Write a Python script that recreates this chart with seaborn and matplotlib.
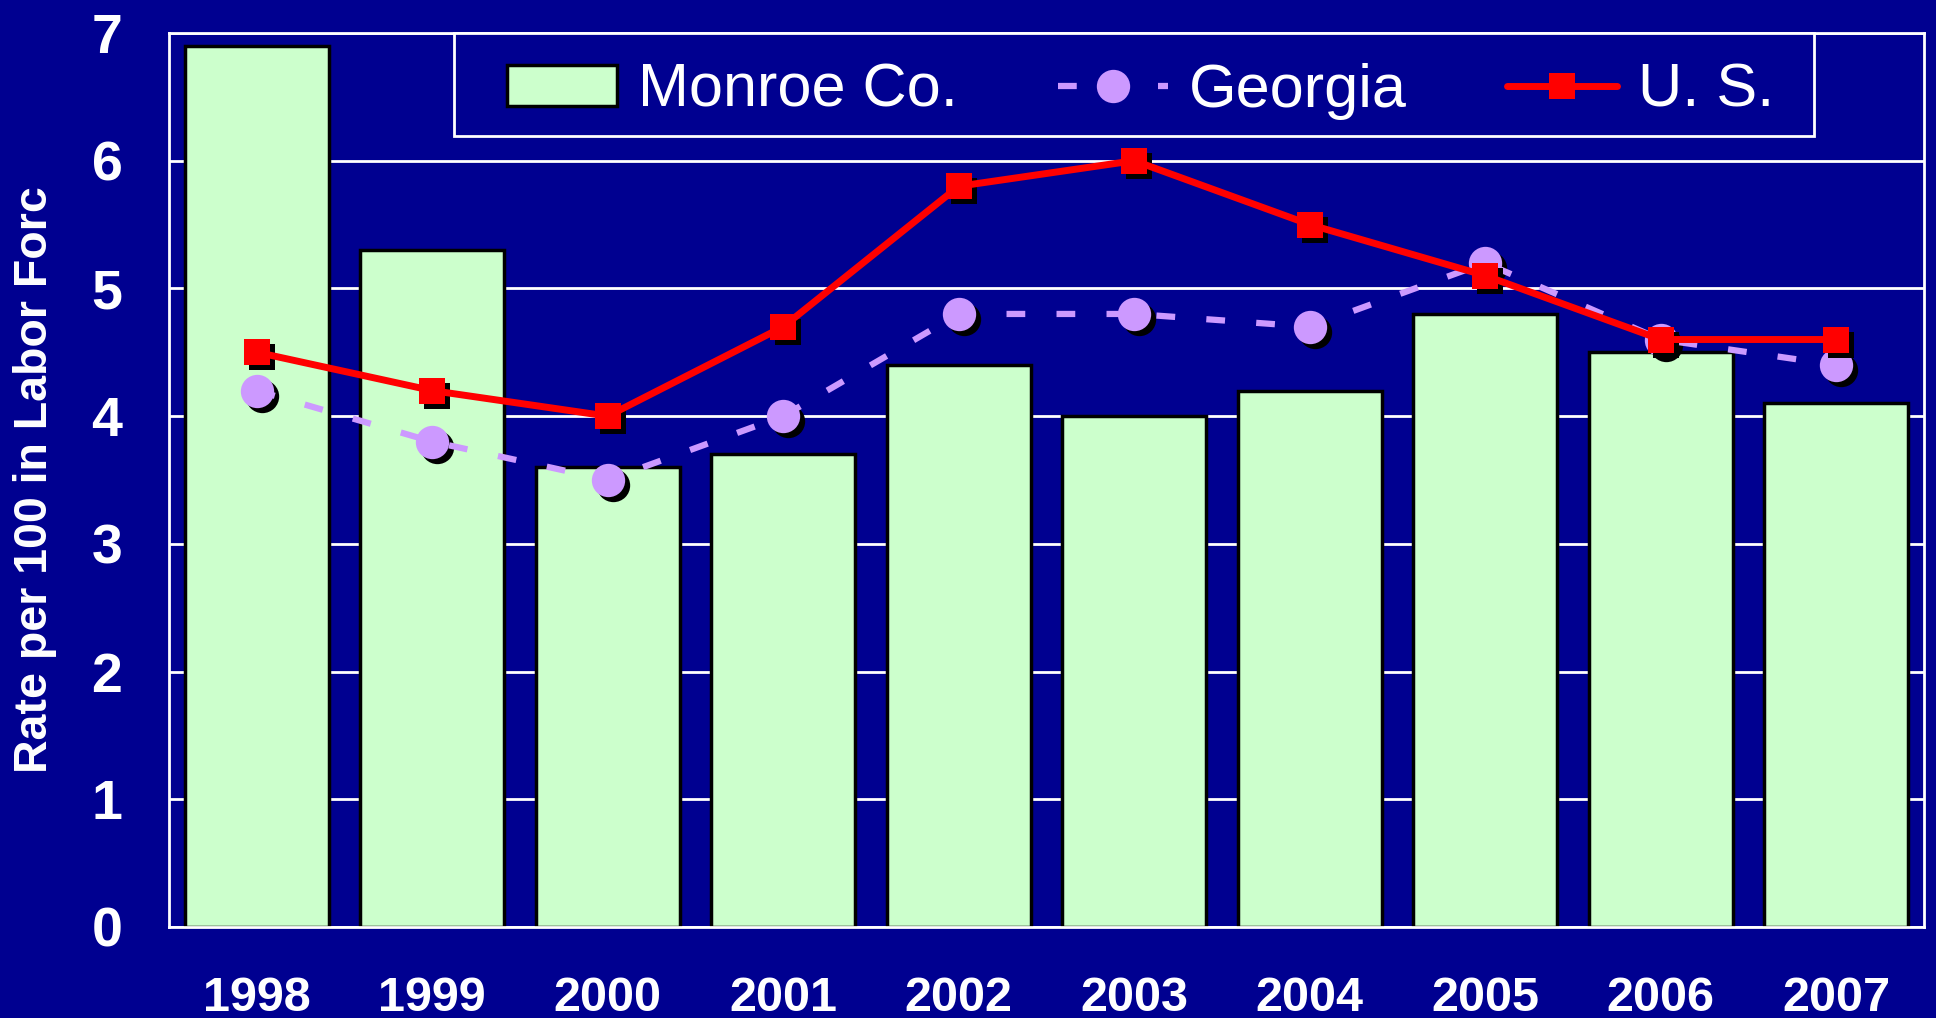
import numpy as np
import pandas as pd
import seaborn as sns
import matplotlib.pyplot as plt
import matplotlib.transforms as mtransforms
from matplotlib.patches import Rectangle
from matplotlib.ticker import FixedLocator

years = ['1998', '1999', '2000', '2001', '2002', '2003', '2004', '2005', '2006', '2007']
monroe = [6.9, 5.3, 3.6, 3.7, 4.4, 4.0, 4.2, 4.8, 4.5, 4.1]
georgia = [4.2, 3.8, 3.5, 4.0, 4.8, 4.8, 4.7, 5.2, 4.6, 4.4]
us = [4.5, 4.2, 4.0, 4.7, 5.8, 6.0, 5.5, 5.1, 4.6, 4.6]

navy = '#000090'
green = '#CCFFCC'
lavender = '#CC99FF'
red = '#FF0000'

sns.set_style('dark', rc={'axes.facecolor': navy, 'figure.facecolor': navy})
plt.rcParams['font.family'] = ['Liberation Sans', 'DejaVu Sans']

df = pd.DataFrame({'Year': years, 'Monroe': monroe, 'Georgia': georgia, 'US': us})
pos = np.arange(len(years))

fig = plt.figure(figsize=(19.36, 10.18), dpi=100, facecolor=navy)
ax = fig.add_axes([0.0873, 0.0894, 0.9065, 0.8782])
ax.set_facecolor(navy)

sns.barplot(data=df, x='Year', y='Monroe', color=green, saturation=1,
            edgecolor='black', linewidth=2.5, width=0.82, label='Monroe Co.',
            ax=ax, zorder=2)

# black drop shadow under the markers
shadow = mtransforms.offset_copy(ax.transData, fig=fig, x=5, y=-5, units='dots')
ax.plot(pos, df['Georgia'], ls='none', marker='o', ms=24, mew=0,
        color='black', transform=shadow, zorder=3)
ax.plot(pos, df['Georgia'], color=lavender, lw=4.5, dashes=(3, 5),
        marker='o', ms=24, mew=0, label='Georgia', zorder=4)
ax.plot(pos, df['US'], ls='none', marker='s', ms=19, mew=0,
        color='black', transform=shadow, zorder=5)
ax.plot(pos, df['US'], color=red, lw=5, marker='s', ms=19, mew=0,
        label='U. S.', zorder=6)

ax.set_xlim(-0.5, len(years) - 0.5)
ax.set_ylim(0, 7)
ax.set_yticks(range(8))
ax.xaxis.set_minor_locator(FixedLocator(np.arange(-0.5, len(years), 1)))

ax.set_axisbelow(True)
ax.yaxis.grid(True, color='white', lw=2)
ax.xaxis.grid(False)

ax.tick_params(axis='x', which='major', length=0, pad=35, labelsize=35,
               labelcolor='white')
ax.tick_params(axis='x', which='minor', direction='inout', length=22,
               width=2, color='white')
ax.tick_params(axis='y', direction='inout', length=29, width=2,
               color='white', pad=19, labelsize=40, labelcolor='white')
plt.setp(ax.get_xticklabels(), fontweight='bold')
plt.setp(ax.get_yticklabels(), fontweight='bold')

for s in ax.spines.values():
    s.set_visible(True)
    s.set_color('white')
    s.set_linewidth(2)

ax.set_xlabel('')
ax.set_ylabel('Rate per 100 in Labor Forc', fontsize=33.5, fontweight='bold',
              color='white')
ax.yaxis.set_label_coords(-0.0636, 0.5)

leg_size = 44
em = leg_size * 100 / 72
handles, labels = ax.get_legend_handles_labels()
order = [labels.index(n) for n in ['Monroe Co.', 'Georgia', 'U. S.']]
leg = ax.legend([handles[i] for i in order], [labels[i] for i in order],
                loc='center left', bbox_to_anchor=(0.1926, 0.935), ncol=3,
                frameon=False, fontsize=leg_size,
                handlelength=110 / em, handleheight=40 / em,
                handletextpad=21 / em, columnspacing=100 / em,
                borderpad=0, borderaxespad=0)
leg.set_zorder(10)
for t in leg.get_texts():
    t.set_color('white')

# square legend frame, wider at the sides than matplotlib's own frame
frame = Rectangle((454 / 1936, 1 - 136 / 1018), 1360 / 1936, 103 / 1018,
                  transform=fig.transFigure, facecolor=navy,
                  edgecolor='white', lw=2, zorder=9, clip_on=False)
ax.add_patch(frame)

fig.savefig('out.png', dpi=100, facecolor=navy)
